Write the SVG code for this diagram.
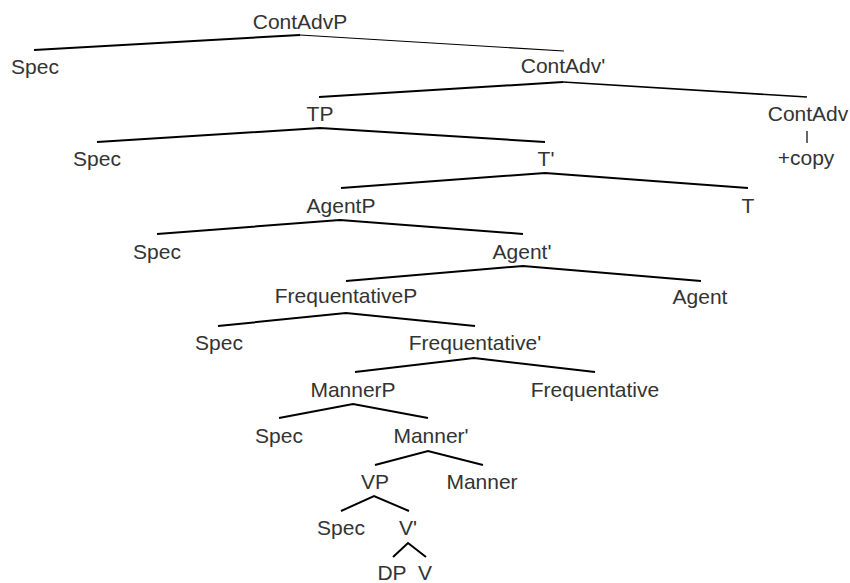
<svg xmlns="http://www.w3.org/2000/svg" width="850" height="583" viewBox="0 0 850 583">
  <style>
    .lbl { font-family: "Liberation Sans", Arial, sans-serif; font-size: 21px; fill: #333333; text-anchor: middle; }
    .br { fill: none; stroke: #000000; stroke-width: 2; stroke-linecap: butt; stroke-linejoin: miter; }
    .thin { stroke-width: 1.2; }
    .mid { stroke-width: 1.6; }
  </style>
  <rect width="850" height="583" fill="#ffffff"/>

  <!-- branches -->
  <g id="connectors">
    <polyline class="br" points="34,50 300,35"/>
    <polyline class="br thin" points="300,35 564,51"/>
    <polyline class="br" points="319,97 563,82"/>
    <polyline class="br mid" points="563,82 807,97"/>
    <line class="br thin" x1="807" y1="131" x2="807" y2="143"/>
    <polyline class="br" points="97,142 320,128 545,142"/>
    <polyline class="br" points="341,188 545,173 748,188"/>
    <polyline class="br" points="157,234 340,220 523,234"/>
    <polyline class="br" points="346,281 523,266 701,281"/>
    <polyline class="br" points="218,326 346,313 475,326"/>
    <polyline class="br" points="355,372 474,358 595,372"/>
    <polyline class="br" points="279,418 353,404 428,418"/>
    <polyline class="br" points="375,465 428,451 483,465"/>
    <polyline class="br" points="341,511 374,496 409,511"/>
    <polyline class="br" points="393,557 408,543 426,557"/>
  </g>

  <!-- nodes -->
  <g id="n-contadvp"><text class="lbl" x="300" y="29">ContAdvP</text></g>
  <g id="n-spec1"><text class="lbl" x="35" y="74">Spec</text></g>
  <g id="n-contadv-bar"><text class="lbl" x="563" y="73">ContAdv'</text></g>
  <g id="n-tp"><text class="lbl" x="320" y="121">TP</text></g>
  <g id="n-contadv"><text class="lbl" x="808" y="121">ContAdv</text></g>
  <g id="n-copy"><text class="lbl" x="806" y="165">+copy</text></g>
  <g id="n-spec2"><text class="lbl" x="97" y="166">Spec</text></g>
  <g id="n-t-bar"><text class="lbl" x="546" y="166">T'</text></g>
  <g id="n-agentp"><text class="lbl" x="341" y="213">AgentP</text></g>
  <g id="n-t"><text class="lbl" x="748" y="213">T</text></g>
  <g id="n-spec3"><text class="lbl" x="157" y="259">Spec</text></g>
  <g id="n-agent-bar"><text class="lbl" x="522" y="259">Agent'</text></g>
  <g id="n-freqp"><text class="lbl" x="346" y="303">FrequentativeP</text></g>
  <g id="n-agent"><text class="lbl" x="700" y="304">Agent</text></g>
  <g id="n-spec4"><text class="lbl" x="219" y="350">Spec</text></g>
  <g id="n-freq-bar"><text class="lbl" x="475" y="350">Frequentative'</text></g>
  <g id="n-mannerp"><text class="lbl" x="353" y="397">MannerP</text></g>
  <g id="n-freq"><text class="lbl" x="595" y="397">Frequentative</text></g>
  <g id="n-spec5"><text class="lbl" x="279" y="443">Spec</text></g>
  <g id="n-manner-bar"><text class="lbl" x="431" y="443">Manner'</text></g>
  <g id="n-vp"><text class="lbl" x="375" y="489">VP</text></g>
  <g id="n-manner"><text class="lbl" x="482" y="489">Manner</text></g>
  <g id="n-spec6"><text class="lbl" x="341" y="535">Spec</text></g>
  <g id="n-v-bar"><text class="lbl" x="408" y="535">V'</text></g>
  <g id="n-dp"><text class="lbl" x="392" y="580">DP</text></g>
  <g id="n-v"><text class="lbl" x="425" y="580">V</text></g>
</svg>
